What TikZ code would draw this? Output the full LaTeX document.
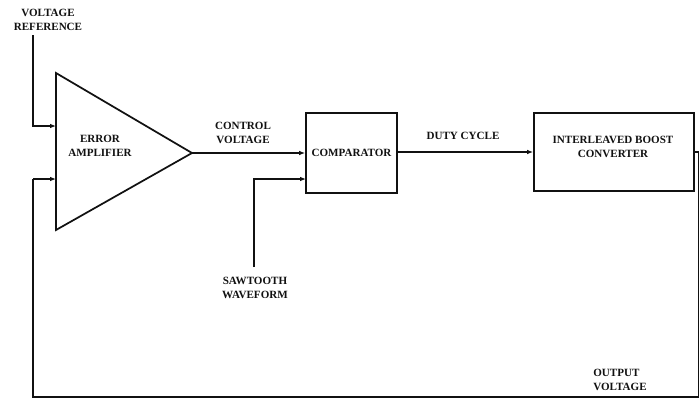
\documentclass[tikz,border=0pt]{standalone}
\usepackage{fontspec}
\setmainfont{Liberation Serif}
\usetikzlibrary{arrows.meta,positioning}
\definecolor{diagink}{HTML}{111111}

\tikzset{
  blocklbl/.style={align=center,font=\fontsize{8.3}{10.3}\selectfont\bfseries,text=diagink,inner sep=0pt},
  blockbox/.style={draw=diagink,line width=1.3pt,inner sep=0pt},
  sigline/.style={draw=diagink,line width=1.3pt},
  sigarrow/.style={sigline,-{Latex[length=4.5pt,width=3.5pt]}}
}

\begin{document}
\begin{tikzpicture}[x=0.75pt,y=-0.75pt]
        \useasboundingbox (0,0) rectangle (699,400);
        % error amplifier
        \coordinate (amptop) at (56,73);
        \coordinate (ampbot) at (56,230);
        \coordinate (ampout) at (192,153);
        \draw[sigline,line join=miter] (amptop) -- (ampout) -- (ampbot) -- cycle;
        \coordinate (ampinp) at (56,126);
        \coordinate (ampinn) at (56,179);
        \node[blocklbl] (amplbl) at (100,146) {ERROR\\AMPLIFIER};
        % blocks
        \node[blockbox,minimum width=68.25pt,minimum height=60pt] (comp) at (351.5,153) {};
        \node[blocklbl] (complbl) at (comp.center) {COMPARATOR};
        \node[blockbox,minimum width=120pt,minimum height=58.5pt] (conv) at (614,152) {};
        \node[blocklbl] (convlbl) at (613,147) {INTERLEAVED BOOST\\CONVERTER};
        % inputs
        \node[blocklbl] (vref) at (48,20) {VOLTAGE\\REFERENCE};
        \coordinate (vreftop) at (33,35);
        \draw[sigarrow] (vreftop) |- (ampinp);
        \node[blocklbl] (saw) at (255,288) {SAWTOOTH\\WAVEFORM};
        \coordinate (sawbot) at (254,267);
        \coordinate (compin2) at (306,179);
        \draw[sigarrow] (sawbot) |- (compin2);
        % forward path
        \draw[sigarrow] (ampout) -- (comp.west |- ampout);
        \node[blocklbl] (ctrl) at (243,133) {CONTROL\\VOLTAGE};
        \draw[sigarrow] (comp.east |- conv) -- (conv.west);
        \node[blocklbl] (duty) at (463,136) {DUTY CYCLE};
        % feedback
        \coordinate (fbright) at (699,152);
        \coordinate (fbcorner) at (699,397);
        \coordinate (fbleft) at (33,397);
        \draw[sigline] (conv.east) -- (fbright) -- (fbcorner) -- (fbleft) -- (fbleft |- ampinn);
        \draw[sigarrow] (fbleft |- ampinn) -- (ampinn);
        \node[blocklbl,align=left] (vout) at (620,380) {OUTPUT\\VOLTAGE};
      \end{tikzpicture}
\end{document}
